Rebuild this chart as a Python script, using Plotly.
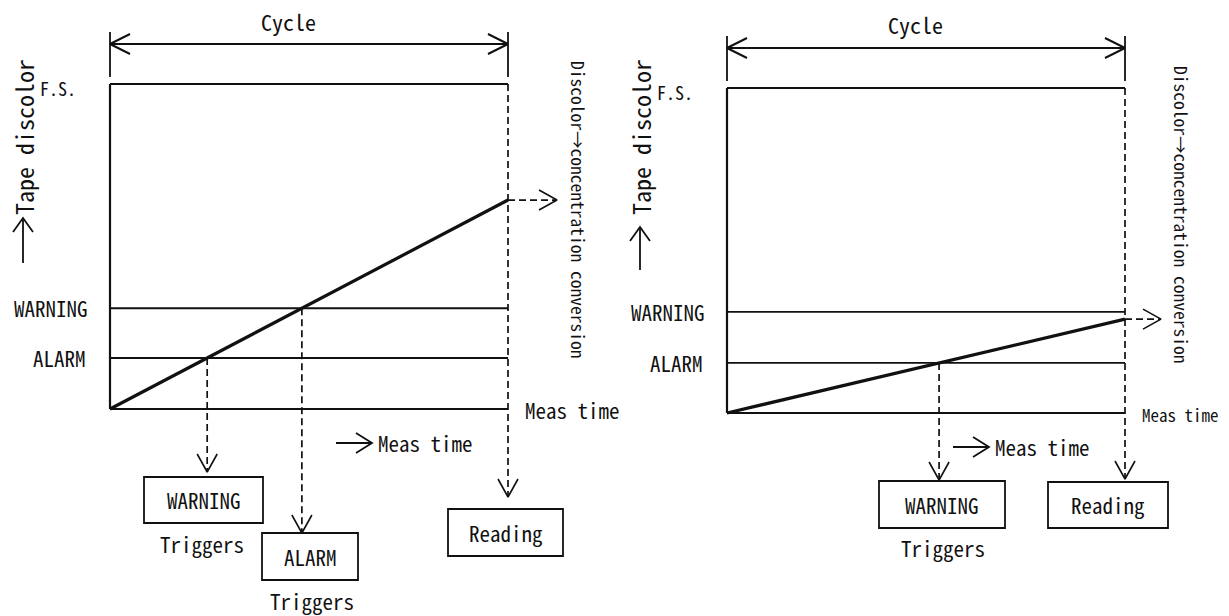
import plotly.graph_objects as go

# ---------------- data (discoloration as fraction of full scale, time as fraction of cycle) ----
LEVEL_LABELS = ["F.S.", "WARNING", "ALARM"]
LEFT_LEVELS = [1.0, 0.31, 0.157]
RIGHT_LEVELS = [1.0, 0.311, 0.154]
END_VALUES = [0.643, 0.289]            # discoloration at end of cycle: left, right
LEFT_TRIGGER_LEVEL = [2, 1]            # index into levels whose crossing triggers a box
LEFT_TRIGGER_BOX = ["WARNING", "ALARM"]
RIGHT_TRIGGER_LEVEL = [2]
RIGHT_TRIGGER_BOX = ["WARNING"]
READING_LABEL = "Reading"
TRIGGER_LABEL = "Triggers"

# ---------------- layout geometry --------------------------------------------------------------
W, H = 1229, 616
SX, SY = 398.0, 325.0                  # pixels per data unit
FONT = "Noto Sans Mono CJK JP, Noto Sans CJK JP, DejaVu Sans Mono, monospace"
BLACK = "#111111"
DASH = "7px,4px"

panels = [
    dict(xa="x", ya="y", ox=110, oy=409, dom=[0.0, 0.5],
         levels=LEFT_LEVELS, end=END_VALUES[0],
         trig_level=LEFT_TRIGGER_LEVEL, trig_box=LEFT_TRIGGER_BOX,
         boxes=[(34, 153, -68, -114, -63, (92, -135)), (152, 248, -124, -171, -124, (202, -192))],
         reading=(338, 453, -100, -147, -88),
         out_arrow=49, cycle=(178, 388), tape=(-87, 272, 146, 191),
         conv=(469, 199), meas_size=21),
    dict(xa="x2", ya="y2", ox=727, oy=413, dom=[0.5, 1.0],
         levels=RIGHT_LEVELS, end=END_VALUES[1],
         trig_level=RIGHT_TRIGGER_LEVEL, trig_box=RIGHT_TRIGGER_BOX,
         boxes=[(152, 278, -68, -115, -67, (216, -135))],
         reading=(321, 441, -69, -115, -66),
         out_arrow=36, cycle=(188, 389), tape=(-87, 276, 143, 186),
         conv=(455, 198), meas_size=17),
]

fig = go.Figure()


def X(px):
    return px / SX


def Y(py):
    return py / SY


def seg(p, xs, ys, width=1.8, dash=None):
    fig.add_trace(go.Scatter(x=xs, y=ys, mode="lines", xaxis=p["xa"], yaxis=p["ya"],
                             line=dict(color=BLACK, width=width, dash=dash),
                             hoverinfo="skip", showlegend=False))


def vhead(p, tx, ty, direction, width=1.6, L=18, hw=10):
    if direction == "down":
        xs = [tx - X(hw), tx, tx + X(hw)]
        ys = [ty + Y(L), ty, ty + Y(L)]
    elif direction == "up":
        xs = [tx - X(hw), tx, tx + X(hw)]
        ys = [ty - Y(L), ty, ty - Y(L)]
    elif direction == "right":
        xs = [tx - X(L), tx, tx - X(L)]
        ys = [ty + Y(hw), ty, ty - Y(hw)]
    else:
        xs = [tx + X(L), tx, tx + X(L)]
        ys = [ty + Y(hw), ty, ty - Y(hw)]
    seg(p, xs, ys, width=width)


def text(p, x, y, s, size=21, xanchor="center", angle=0):
    fig.add_annotation(x=x, y=y, xref=p["xa"], yref=p["ya"], text=s, showarrow=False,
                       xanchor=xanchor, yanchor="middle", textangle=angle,
                       font=dict(family=FONT, size=size, color=BLACK))


def box(p, x0, x1, y0, y1, label):
    fig.add_shape(type="rect", xref=p["xa"], yref=p["ya"], x0=X(x0), x1=X(x1), y0=Y(y0), y1=Y(y1),
                  line=dict(color=BLACK, width=1.8), fillcolor="rgba(0,0,0,0)")
    text(p, X((x0 + x1) / 2), Y((y0 + y1) / 2), label)


for p in panels:
    lv = p["levels"]
    # full-scale line, threshold lines, time axis
    seg(p, [0, 1], [lv[0], lv[0]], width=2.2)
    for v in lv[1:]:
        seg(p, [0, 1], [v, v], width=1.8)
    seg(p, [0, 1], [0, 0], width=2.0)
    # discoloration axis
    seg(p, [0, 0], [0, lv[0]], width=2.2)
    # level labels
    text(p, X(-32), lv[0] - Y(4), LEVEL_LABELS[0], size=18, xanchor="right")
    text(p, X(-20), lv[1], LEVEL_LABELS[1], xanchor="right")
    text(p, X(-22), lv[2], LEVEL_LABELS[2], xanchor="right")

    # discoloration growth line
    seg(p, [0, 1], [0, p["end"]], width=3.2)

    # end-of-cycle dashed vertical down to Reading box
    rx0, rx1, ry0, ry1, rtip = p["reading"]
    seg(p, [1, 1], [lv[0], Y(rtip)], width=1.7, dash=DASH)
    vhead(p, 1, Y(rtip), "down")
    box(p, rx0, rx1, ry0, ry1, READING_LABEL)

    # dashed arrow to concentration conversion
    seg(p, [1, 1 + X(p["out_arrow"])], [p["end"], p["end"]], width=1.7, dash=DASH)
    vhead(p, 1 + X(p["out_arrow"]), p["end"], "right")

    # trigger drops
    for li, lab, bx in zip(p["trig_level"], p["trig_box"], p["boxes"]):
        level = lv[li]
        t = level / p["end"]
        x0, x1, y0, y1, tip, (tx, ty) = bx
        seg(p, [t, t], [level, Y(tip)], width=1.7, dash=DASH)
        vhead(p, t, Y(tip), "down")
        box(p, x0, x1, y0, y1, lab)
        text(p, X(tx), Y(ty), TRIGGER_LABEL)

    # cycle double arrow with end ticks
    cy = Y(365)
    seg(p, [0, 1], [cy, cy], width=2.0)
    vhead(p, 0, cy, "left", width=2.0, L=20)
    vhead(p, 1, cy, "right", width=2.0, L=20)
    seg(p, [0, 0], [Y(332), Y(377)], width=1.8)
    seg(p, [1, 1], [Y(332), Y(377)], width=1.8)
    text(p, X(p["cycle"][0]), Y(p["cycle"][1]), "Cycle", size=22)

    # measurement time labels
    text(p, 1 + X(15), Y(-1), "Meas time", size=p["meas_size"], xanchor="left")
    seg(p, [X(226), X(262)], [Y(-34), Y(-34)], width=1.8)
    vhead(p, X(262), Y(-34), "right", width=1.8, L=16)
    text(p, X(266), Y(-34), "Meas time", xanchor="left")

    # y-axis title with upward arrow below it
    tx, tyc, a0, a1 = p["tape"]
    text(p, X(tx), Y(tyc), "Tape discolor", size=24, angle=-90)
    seg(p, [X(tx), X(tx)], [Y(a0), Y(a1)], width=1.8)
    vhead(p, X(tx), Y(a1), "up", width=1.8, L=14)

    # conversion label
    text(p, X(p["conv"][0]), Y(p["conv"][1]), "Discolor→concentration conversion", size=17.5, angle=90)

# axes
for p in panels:
    suffix = "" if p["xa"] == "x" else "2"
    x_left_px = p["dom"][0] * W
    x_right_px = p["dom"][1] * W
    fig.layout["xaxis" + suffix] = dict(domain=p["dom"],
                                        range=[(x_left_px - p["ox"]) / SX, (x_right_px - p["ox"]) / SX],
                                        visible=False, fixedrange=True, anchor="y" + suffix)
    fig.layout["yaxis" + suffix] = dict(domain=[0, 1], range=[-(H - p["oy"]) / SY, p["oy"] / SY],
                                        visible=False, fixedrange=True, anchor="x" + suffix)

fig.update_layout(width=W, height=H, margin=dict(l=0, r=0, t=0, b=0),
                  paper_bgcolor="white", plot_bgcolor="white", showlegend=False)

fig.write_html("out.html", config={"displayModeBar": False},
               post_script="document.body.style.margin='0px';document.body.style.overflow='hidden';")
